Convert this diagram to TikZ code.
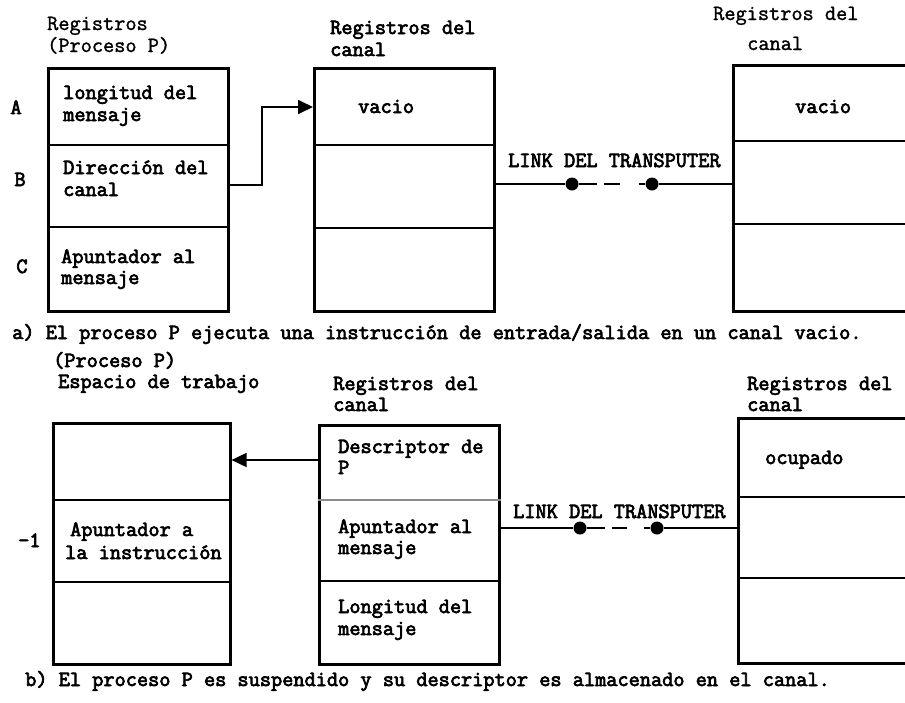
\documentclass[tikz,border=0pt]{standalone}
\usepackage{fontspec}
\newfontfamily\typew{Latin Modern Mono}[FakeBold=3.2]
\newfontfamily\typewlight{Latin Modern Mono}[FakeBold=1.4]
\usetikzlibrary{arrows.meta}

\begin{document}
\begin{tikzpicture}[x=1pt,y=-1pt,
  txt/.style={anchor=base west, inner sep=0pt, font=\typew\fontsize{21.7}{24}\selectfont},
  thin txt/.style={txt, font=\typewlight\fontsize{21.7}{24}\selectfont},
  regbox/.style={draw, line width=2.6pt, anchor=north west, inner sep=0pt, minimum width=180pt},
  divider/.style={line width=2.4pt},
  conn/.style={line width=1.8pt},
  arrowhead/.style={-{Triangle[length=15pt,width=14pt]}},
  link/.style={line width=1.6pt},
  dot/.style={circle, fill, inner sep=0pt, minimum size=13pt},
]
\useasboundingbox (0,0) rectangle (905,702);
\clip (0,0) rectangle (905,702);
\fill[white] (0,0) rectangle (905,702);

% ---------------- a) ----------------
\node[thin txt] (ta1) at (47,30) {Registros};
\node[thin txt] (ta2) at (47,52) {(Proceso P)};
\node[regbox, minimum height=243pt] (p1) at (47,67) {};
\draw[divider] (p1.west |- 0,145) -- (p1.east |- 0,145);
\draw[divider] (p1.west |- 0,227) -- (p1.east |- 0,227);
\node[txt, anchor=base] (la) at (16,114) {A};
\node[txt, anchor=base] (lb) at (20,186) {B};
\node[txt, anchor=base] (lc) at (22,273) {C};
\node[txt] (p1a) at (63,99) {longitud del};
\node[txt] (p1b) at (63,121) {mensaje};
\node[txt] (p1c) at (63,174) {Dirección del};
\node[txt] (p1d) at (63,196) {canal};
\node[txt] (p1e) at (61,263) {Apuntador al};
\node[txt] (p1f) at (61,284) {mensaje};

\node[txt] (tb1) at (330,34) {Registros del};
\node[txt] (tb2) at (330,56) {canal};
\node[regbox, minimum height=243pt] (c1) at (313,67) {};
\draw[divider] (c1.west |- 0,145) -- (c1.east |- 0,145);
\draw[divider] (c1.west |- 0,228) -- (c1.east |- 0,228);
\node[txt] (c1a) at (358,113) {vacio};

\draw[conn, arrowhead] (p1.east |- 0,185) -| (262,107) -- (c1.west |- 0,107);

\node[thin txt] (tc1) at (713,20) {Registros del};
\node[thin txt] (tc2) at (747,50) {canal};
\node[regbox, minimum width=220pt, minimum height=246pt] (c3) at (732,64) {};
\draw[divider] (c3.west |- 0,141) -- (c3.east |- 0,141);
\draw[divider] (c3.west |- 0,224) -- (c3.east |- 0,224);
\node[txt] (c3a) at (795,113) {vacio};

\node[txt] (lk1) at (508,167) {LINK DEL TRANSPUTER};
\node[dot] (d1) at (572,184) {};
\node[dot] (d2) at (652,184) {};
\draw[link] (c1.east |- d1) -- (d1);
\draw[link, dash pattern=on 18pt off 7pt on 16pt off 19pt on 30pt] (d1) -- (d2);
\draw[link] (d2) -- (c3.west |- d2);

\node[txt] (capa) at (12,339) {a) El proceso P ejecuta una instrucción de entrada/salida en un canal vacio.};

% ---------------- b) ----------------
\node[txt] (td1) at (53,367) {(Proceso P)};
\node[txt] (td2) at (58,388) {Espacio de trabajo};
\node[regbox, minimum width=177pt, minimum height=241pt] (w1) at (52,422) {};
\draw[divider] (w1.west |- 0,500) -- (w1.east |- 0,500);
\draw[divider] (w1.west |- 0,582) -- (w1.east |- 0,582);
\node[txt] (lm) at (18,547) {-1};
\node[txt] (w1a) at (70,536) {Apuntador a};
\node[txt] (w1b) at (65,559) {la instrucción};

\node[txt] (te1) at (333,390) {Registros del};
\node[txt] (te2) at (333,411) {canal};
\node[regbox, minimum height=239pt] (c5) at (318,424) {};
\draw[divider, black!45] (c5.west |- 0,500) -- (c5.east |- 0,500);
\draw[divider] (c5.west |- 0,581) -- (c5.east |- 0,581);
\node[txt] (c5a) at (338,453) {Descriptor de};
\node[txt] (c5b) at (338,474) {P};
\node[txt] (c5c) at (338,533) {Apuntador al};
\node[txt] (c5d) at (338,554) {mensaje};
\node[txt] (c5e) at (338,613) {Longitud del};
\node[txt] (c5f) at (338,635) {mensaje};

\draw[conn, arrowhead] (c5.west |- 0,460) -- (w1.east |- 0,460);

\node[txt] (tf1) at (747,390) {Registros del};
\node[txt] (tf2) at (747,411) {canal};
\node[regbox, minimum width=220pt, minimum height=245pt] (c6) at (737,417) {};
\draw[divider] (c6.west |- 0,497) -- (c6.east |- 0,497);
\draw[divider] (c6.west |- 0,578) -- (c6.east |- 0,578);
\node[txt] (c6a) at (765,464) {ocupado};

\node[txt] (lk2) at (513,518) {LINK DEL TRANSPUTER};
\node[dot] (d3) at (580,528) {};
\node[dot] (d4) at (657,528) {};
\draw[link] (c5.east |- d3) -- (d3);
\draw[link, dash pattern=on 18pt off 7pt on 15pt off 17pt on 30pt] (d3) -- (d4);
\draw[link] (d4) -- (c6.west |- d4);

\node[txt] (capb) at (25,686) {b) El proceso P es suspendido y su descriptor es almacenado en el canal.};
\end{tikzpicture}
\end{document}
